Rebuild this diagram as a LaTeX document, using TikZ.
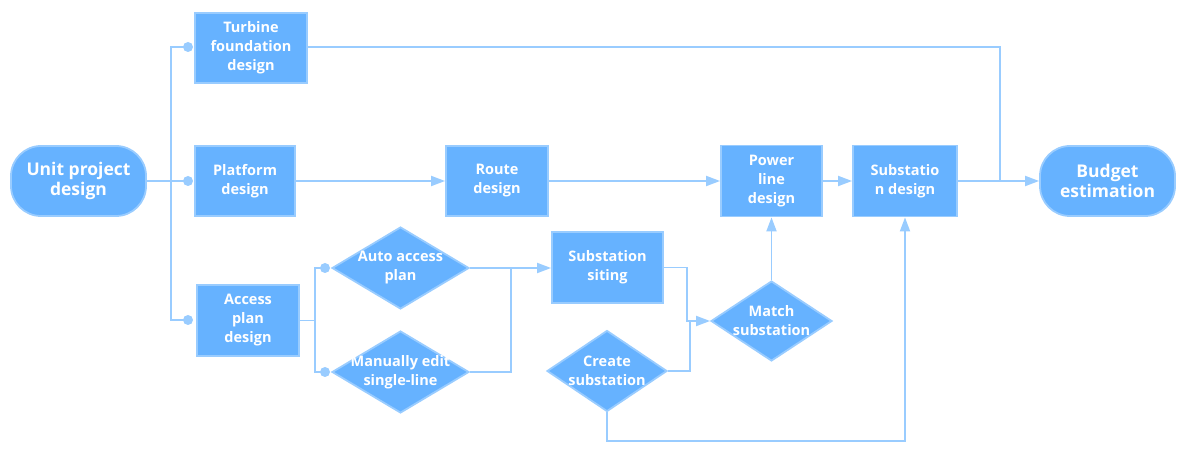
\documentclass[tikz,border=0pt]{standalone}
\usepackage{fontspec}
\setmainfont{Open Sans}
\usetikzlibrary{arrows.meta,shapes.geometric}
\definecolor{boxfill}{HTML}{66B2FF}
\definecolor{boxline}{HTML}{99CCFF}
\definecolor{conn}{HTML}{99CCFF}
\begin{document}
\begin{tikzpicture}[x=1pt,y=-1pt,
  proc/.style={draw=boxline,line width=1.8pt,fill=boxfill,text=white,font=\fontsize{14.5}{19}\selectfont\bfseries,align=center,inner sep=0pt},
  term/.style={draw=boxline,line width=1.8pt,fill=boxfill,text=white,font=\fontsize{17.5}{20.5}\selectfont\bfseries,align=center,inner sep=0pt,rounded corners=30pt,minimum width=135pt,minimum height=70pt},
  dia/.style={draw=boxline,line width=1.8pt,fill=boxfill,diamond,inner sep=0pt,minimum width=137pt,minimum height=82pt},
  txt/.style={text=white,font=\fontsize{14.5}{19}\selectfont\bfseries,align=center,inner sep=0pt},
  conn/.style={draw=conn,line width=1.8pt},
  arr/.style={conn,-{Triangle[length=14pt,width=10pt]}},
  dot/.style={circle,fill=conn,minimum size=10pt,inner sep=0pt}
]
\useasboundingbox (0,0) rectangle (1187,454);
% nodes
\node[term] (unit) at (78.5,181) {Unit project\\design};
\node[term] (budget) at (1107.5,181) {Budget\\estimation};
\node[proc,minimum width=112pt,minimum height=70pt] (turb) at (251,48) {Turbine\\foundation\\design};
\node[proc,minimum width=100pt,minimum height=70pt] (plat) at (245,181) {Platform\\design};
\node[proc,minimum width=102pt,minimum height=71pt] (access) at (248,320.5) {Access\\plan\\design};
\node[proc,minimum width=102pt,minimum height=70pt] (route) at (497,181) {Route\\design};
\node[proc,minimum width=111pt,minimum height=71pt] (siting) at (607.5,267.5) {Substation\\siting};
\node[proc,minimum width=101pt,minimum height=71pt] (power) at (771.5,181) {Power\\line\\design};
\node[proc,minimum width=104pt,minimum height=71pt] (subdes) at (905,181) {Substatio\\n design};
\node[dia] (auto) at (400.5,268) {};
\node[txt] at (auto) {Auto access\\plan};
\node[dia] (manual) at (400.5,372) {};
\node[txt] at (manual) {Manually edit\\single-line};
\node[dia,minimum width=120pt,minimum height=81pt] (create) at (607,371) {};
\node[txt] at (create) {Create\\substation};
\node[dia,minimum width=121pt,minimum height=80pt] (match) at (771.5,321) {};
\node[txt] at (match) {Match\\substation};
% junction coordinates
\coordinate (d1) at (188,47);
\coordinate (d2) at (188,181);
\coordinate (d3) at (188,320);
\coordinate (e1) at (325,268);
\coordinate (e2) at (325,372);
\node[dot] (dd1) at (d1) {};
\node[dot] (dd2) at (d2) {};
\node[dot] (dd3) at (d3) {};
\node[dot] (de1) at (e1) {};
\node[dot] (de2) at (e2) {};
% connectors
\draw[conn] (unit.east) -- (dd2.center);
\draw[conn] (dd1.center) -| (171,320) -- (dd3.center);
\draw[conn] (turb.east |- 0,47) -| (1000,181);
\draw[arr] (plat) -- (route);
\draw[arr] (route) -- (power);
\draw[arr] (power) -- (subdes);
\draw[arr] (subdes) -- (budget);
\draw[conn] (access.east) -- (315,320.5);
\draw[conn] (de1.center) -| (315,372) -- (de2.center);
\draw[arr] (auto.east) -- (siting.west |- auto.east);
\draw[conn] (manual.east) -| (511,268);
\draw[arr] (siting.east) -| (687,321) -- (match.west);
\draw[conn] (create.east) -| (690,321);
\draw[arr] (match.north) -- (power.south);
\draw[arr] (create.south) |- (905,441) -- (subdes.south);
\end{tikzpicture}
\end{document}
